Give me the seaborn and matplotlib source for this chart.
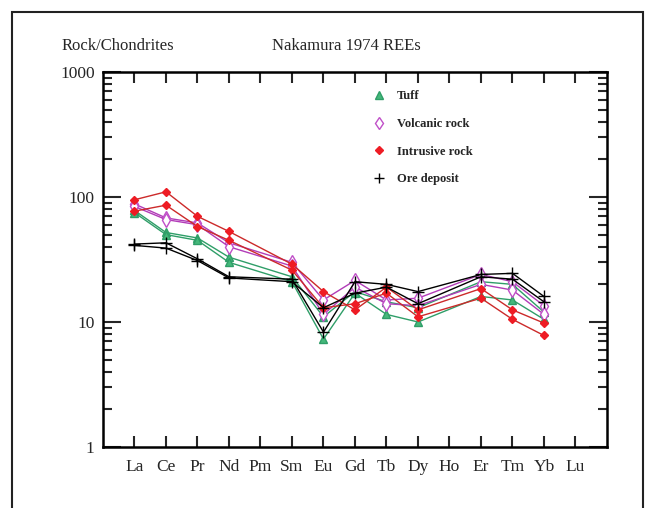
import numpy as np
import pandas as pd
import seaborn as sns
import matplotlib
matplotlib.use("Agg")
import matplotlib.pyplot as plt
from matplotlib.lines import Line2D
from matplotlib.patches import Rectangle
from matplotlib.ticker import LogLocator, FixedLocator, NullFormatter

# Rare earth elements in chondrite-normalised order (Pm and Ho not analysed)
elements = ["La", "Ce", "Pr", "Nd", "Pm", "Sm", "Eu", "Gd", "Tb", "Dy", "Ho", "Er", "Tm", "Yb", "Lu"]
measured = ["La", "Ce", "Pr", "Nd", "Sm", "Eu", "Gd", "Tb", "Dy", "Er", "Tm", "Yb"]

# Sample / chondrite ratios
tuff_1 = [78, 52, 47, 33, 23, 11.0, 17.5, 14.5, 13.0, 21.0, 20.0, 12.0]
tuff_2 = [75, 50, 45, 30, 21, 7.3, 17.0, 11.5, 10.0, 16.0, 15.0, 10.5]
volcanic_1 = [88, 68, 62, 43, 30, 15.0, 21.5, 15.0, 15.5, 24.0, 21.0, 13.5]
volcanic_2 = [84, 66, 60, 40, 28, 11.5, 19.0, 14.0, 13.5, 20.0, 18.0, 11.5]
intrusive_1 = [95, 110, 70, 53, 29, 17.5, 12.5, 19.0, 12.5, 18.5, 12.5, 9.8]
intrusive_2 = [77, 86, 58, 45, 26, 13.0, 14.0, 17.0, 11.0, 15.5, 10.5, 7.8]
ore_1 = [42, 43, 32, 23, 22, 8.3, 21.0, 20.0, 17.5, 24.0, 24.5, 16.0]
ore_2 = [41, 39, 31, 22.5, 21, 13.0, 17.0, 19.0, 14.0, 23.0, 22.0, 14.5]

groups = ["Tuff", "Volcanic rock", "Intrusive rock", "Ore deposit"]
samples = {
    "Tuff": [tuff_1, tuff_2],
    "Volcanic rock": [volcanic_1, volcanic_2],
    "Intrusive rock": [intrusive_1, intrusive_2],
    "Ore deposit": [ore_1, ore_2],
}

styles = {
    "Tuff": dict(color="#2f9e68", marker="^", mfc="#45b87a", mec="#2f9e68", ms=6),
    "Volcanic rock": dict(color="#b23cb8", marker="d", mfc="white", mec="#c050c8", ms=7),
    "Intrusive rock": dict(color="#cc2a2a", marker="D", mfc="#ee1c24", mec="#ee1c24", ms=4.5),
    "Ore deposit": dict(color="black", marker="+", mfc="black", mec="black", ms=8),
}

pos = {el: i + 1 for i, el in enumerate(elements)}

rows = []
for g in groups:
    for k, vals in enumerate(samples[g]):
        for el, v in zip(measured, vals):
            rows.append(dict(group=g, sample=f"{g}-{k}", element=el, x=pos[el], value=v))
df = pd.DataFrame(rows)

sns.set_style("white")
plt.rcParams["font.family"] = ["Liberation Serif", "DejaVu Serif"]

fig = plt.figure(figsize=(6.53, 5.08), dpi=100)
ax = fig.add_axes([0.1577, 0.1201, 0.7718, 0.7382])

for g in groups:
    st = styles[g]
    for s, sub in df[df.group == g].groupby("sample"):
        sns.lineplot(data=sub, x="x", y="value", ax=ax, color=st["color"], lw=1.0,
                     marker=st["marker"], markersize=st["ms"],
                     markerfacecolor=st["mfc"], markeredgecolor=st["mec"],
                     markeredgewidth=1.0, legend=False, sort=True)

ax.set_yscale("log")
ax.set_xlim(0, 16)
ax.set_ylim(1, 1000)
ax.set_xlabel("")
ax.set_ylabel("")

ax.xaxis.set_major_locator(FixedLocator(list(pos.values())))
ax.set_xticklabels(elements, fontsize=12.5)
ax.yaxis.set_major_locator(LogLocator(base=10, numticks=10))
ax.yaxis.set_minor_locator(LogLocator(base=10, subs=np.arange(2, 10), numticks=20))
ax.yaxis.set_minor_formatter(NullFormatter())
ax.set_yticks([1, 10, 100, 1000])
ax.set_yticklabels(["1", "10", "100", "1000"], fontsize=12.5)

ax.tick_params(axis="x", which="major", direction="in", length=8, width=1.5,
               top=True, bottom=True, pad=9)
ax.tick_params(axis="y", which="major", direction="in", length=13, width=1.5,
               left=True, right=True, pad=6)
ax.tick_params(axis="y", which="minor", direction="in", length=6.5, width=1.5,
               left=True, right=True)
ax.tick_params(axis="x", which="minor", bottom=False, top=False)
for sp in ax.spines.values():
    sp.set_linewidth(1.8)
    sp.set_color("black")

handles = [Line2D([], [], ls="none", marker=styles[g]["marker"],
                  markerfacecolor=styles[g]["mfc"], markeredgecolor=styles[g]["mec"],
                  markersize=styles[g]["ms"] * 0.9, markeredgewidth=1.0) for g in groups]
ax.legend(handles, groups, loc="upper left", bbox_to_anchor=(0.518, 0.974),
          frameon=False, prop=dict(family="Liberation Serif", weight="bold", size=9),
          handlelength=1.0, handletextpad=0.9, labelspacing=1.25, borderpad=0.2)

fig.text(62 / 653, 1 - 46 / 508, "Rock/Chondrites", fontsize=12, va="center", ha="left")
fig.text(272 / 653, 1 - 46 / 508, "Nakamura 1974 REEs", fontsize=12, va="center", ha="left")

fig.add_artist(Rectangle((12 / 653, -0.05), (643 - 12) / 653, 1.05 - 12 / 508,
                         transform=fig.transFigure, fill=False, lw=1.5, ec="#222222"))

fig.savefig("out.png", dpi=100)
